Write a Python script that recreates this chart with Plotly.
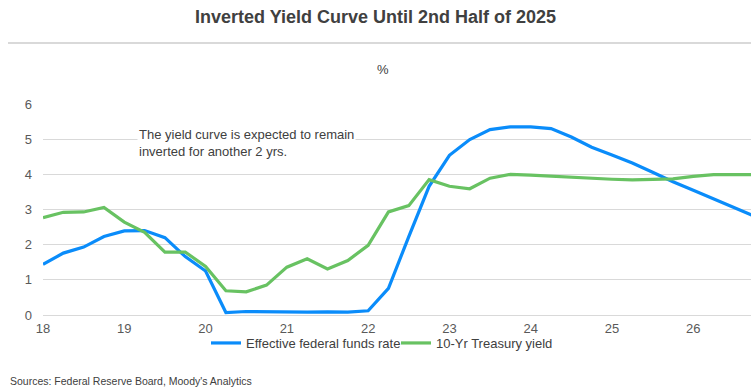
import plotly.graph_objects as go

quarters = [18 + 0.25 * i for i in range(36)]
fed_funds = [1.44, 1.76, 1.93, 2.23, 2.39, 2.40, 2.20, 1.66, 1.25, 0.07, 0.10, 0.09,
             0.08, 0.08, 0.09, 0.08, 0.12, 0.76, 2.23, 3.66, 4.54, 4.99, 5.27, 5.35,
             5.35, 5.30, 5.06, 4.77, 4.55, 4.32, 4.06, 3.79, 3.55, 3.30, 3.06, 2.81]
treasury_10y = [2.77, 2.92, 2.93, 3.06, 2.64, 2.35, 1.79, 1.79, 1.38, 0.69, 0.66, 0.85,
                1.36, 1.60, 1.31, 1.55, 1.98, 2.93, 3.11, 3.85, 3.66, 3.59, 3.89, 4.00,
                3.98, 3.95, 3.90, 3.87, 3.86, 3.84, 3.86, 3.87, 3.94, 3.99, 3.99, 3.99]
x_ticks = [18, 19, 20, 21, 22, 23, 24, 25, 26]
y_ticks = [0, 1, 2, 3, 4, 5, 6]

FONT = "Arial, Liberation Sans, sans-serif"
TXT = "#404040"
GRID = "#d9d9d9"

# plot area in pixels
L, R, T, B = 43, 751, 104, 315
PW, PH = R - L, B - T


def px(x):
    return (x - L) / PW


def py(y):
    return (B - y) / PH


fig = go.Figure()
fig.add_trace(go.Scatter(x=quarters, y=fed_funds, mode="lines",
                         name="Effective federal funds rate",
                         line=dict(color="#0A8CFA", width=3.2)))
fig.add_trace(go.Scatter(x=quarters, y=treasury_10y, mode="lines",
                         name="10-Yr Treasury yield",
                         line=dict(color="#68C262", width=3.2)))

fig.update_layout(
    width=751, height=389,
    margin=dict(l=L, r=751 - R, t=T, b=389 - B, autoexpand=False),
    paper_bgcolor="white", plot_bgcolor="white",
    font=dict(family=FONT, size=13, color="#595959"),
    title=dict(text="<b>Inverted Yield Curve Until 2nd Half of 2025</b>",
               x=0.5, xref="container", xanchor="center",
               y=1 - 17 / 389, yref="container", yanchor="middle",
               font=dict(family=FONT, size=18, color=TXT)),
    showlegend=True,
    legend=dict(orientation="h", xref="container", yref="container",
                x=(211 - 5) / 751, xanchor="left", y=1 - 343 / 389, yanchor="middle",
                font=dict(family=FONT, size=13, color=TXT),
                itemwidth=30, entrywidth=145, traceorder="normal",
                bgcolor="rgba(0,0,0,0)"),
    xaxis=dict(range=[18, 26.71], tickvals=x_ticks, ticktext=[str(v) for v in x_ticks],
               showgrid=False, zeroline=False, showline=False, ticks="",
               ticklabelstandoff=4,
               tickfont=dict(family=FONT, size=13, color="#595959"), fixedrange=True),
    yaxis=dict(range=[0, 6], tickvals=y_ticks, showgrid=True, gridcolor=GRID, gridwidth=1,
               zeroline=True, zerolinecolor=GRID, zerolinewidth=1, showline=False, ticks="",
               ticklabelstandoff=10,
               tickfont=dict(family=FONT, size=13, color="#595959"), fixedrange=True),
    shapes=[dict(type="line", xref="paper", yref="paper", x0=px(8), x1=px(751),
                 y0=py(43), y1=py(43), line=dict(color=GRID, width=2))],
    annotations=[
        dict(text="%", xref="paper", yref="paper", x=px(383), y=py(70),
             xanchor="center", yanchor="middle", showarrow=False,
             font=dict(family=FONT, size=13, color=TXT)),
        dict(text="The yield curve is expected to remain<br>inverted for another 2 yrs.",
             x=19.16, y=4.90, xref="x", yref="y", xanchor="left", yanchor="middle",
             align="left", showarrow=False, bgcolor="white", borderpad=1,
             font=dict(family=FONT, size=13, color=TXT)),
        dict(text="Sources: Federal Reserve Board, Moody's Analytics",
             xref="paper", yref="paper", x=px(8), y=py(381),
             xanchor="left", yanchor="middle", showarrow=False,
             font=dict(family=FONT, size=10.5, color=TXT)),
    ],
)

fig.write_html("out.html")
